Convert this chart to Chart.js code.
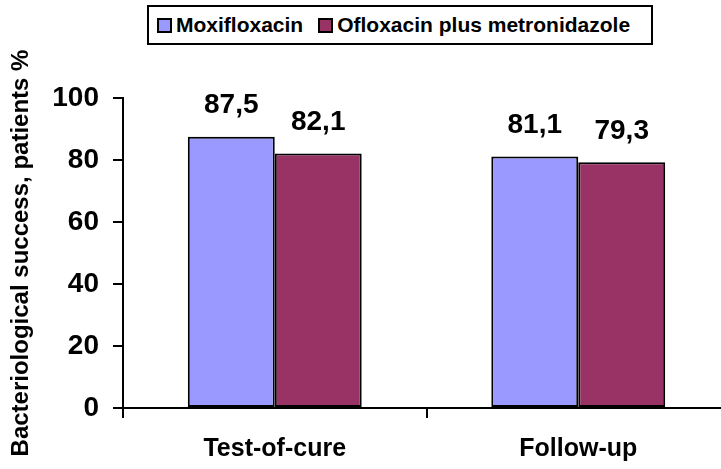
<!DOCTYPE html>
<html>
<head>
<meta charset="utf-8">
<script src="https://cdn.jsdelivr.net/npm/chart.js@4.4.0/dist/chart.umd.min.js"></script>
<style>
  html, body { margin: 0; padding: 0; background: #fff; overflow: hidden; }
  #wrap { position: relative; width: 730px; height: 469px; }
  #legend {
    position: absolute; left: 147px; top: 5px; width: 494px; height: 36px;
    border: 2px solid #000; background: #fff;
    font: bold 21px "Liberation Sans", Arial, sans-serif;
    display: flex; align-items: center; padding-left: 8px; box-sizing: content-box;
  }
  #legend span.item { display: flex; align-items: center; margin-right: 15px; }
  #legend span.sw { width: 11px; height: 11px; border: 2px solid #000; margin-right: 4px; display: inline-block; }
</style>
</head>
<body>
<div id="wrap">
  <canvas id="chart" width="730" height="469"></canvas>
  <div id="legend"></div>
</div>
<script>
// Chart data
const categories = ['Test-of-cure', 'Follow-up'];
const seriesNames = ['Moxifloxacin', 'Ofloxacin plus metronidazole'];
const moxifloxacin = [87.5, 81.1];
const ofloxacinMetronidazole = [82.1, 79.3];
const yTicks = [0, 20, 40, 60, 80, 100];
const seriesColors = ['#9999FF', '#993366'];

const FONT = '"Liberation Sans", Arial, sans-serif';

// HTML legend with a border, like the original
const legendEl = document.getElementById('legend');
seriesNames.forEach((name, i) => {
    const item = document.createElement('span');
    item.className = 'item';
    item.innerHTML = `<span class="sw" style="background:${seriesColors[i]}"></span>${name}`;
    legendEl.appendChild(item);
});

// Draws value labels above each bar, with a decimal comma
const valueLabels = {
    id: 'valueLabels',
    afterDatasetsDraw(chart) {
        const ctx = chart.ctx;
        ctx.save();
        ctx.font = 'bold 28px ' + FONT;
        ctx.fillStyle = '#000';
        ctx.textAlign = 'center';
        ctx.textBaseline = 'middle';
        chart.data.datasets.forEach((ds, di) => {
            chart.getDatasetMeta(di).data.forEach((bar, i) => {
                const txt = ds.data[i].toFixed(1).replace('.', ',');
                ctx.fillText(txt, bar.x, bar.y - 31);
            });
        });
        ctx.restore();
    }
};

new Chart(document.getElementById('chart'), {
    type: 'bar',
    data: {
        labels: categories,
        datasets: [
            { label: seriesNames[0], data: moxifloxacin, backgroundColor: seriesColors[0] },
            { label: seriesNames[1], data: ofloxacinMetronidazole, backgroundColor: seriesColors[1] }
        ]
    },
    options: {
        responsive: false,
        animation: false,
        layout: { padding: { top: 98, right: 0, left: 0, bottom: 0 } },
        datasets: {
            bar: {
                borderColor: '#000', borderWidth: 2, borderSkipped: false,
                categoryPercentage: 0.573, barPercentage: 1
            }
        },
        plugins: { legend: { display: false }, tooltip: { enabled: false } },
        scales: {
            x: {
                offset: true,
                grid: { offset: true, drawOnChartArea: false, tickLength: 10, color: '#000', lineWidth: 2 },
                border: { color: '#000', width: 2 },
                ticks: { color: '#000', padding: 16, font: { family: FONT, size: 25, weight: 'bold' } },
                afterFit(scale) { scale.height = 61; }
            },
            y: {
                min: 0, max: 100,
                afterBuildTicks(scale) { scale.ticks = yTicks.map(v => ({ value: v })); },
                grid: { drawOnChartArea: false, tickLength: 10, color: '#000', lineWidth: 2 },
                border: { color: '#000', width: 2 },
                ticks: { color: '#000', padding: 14, font: { family: FONT, size: 28, weight: 'bold' } },
                title: {
                    display: true, text: 'Bacteriological success, patients %', color: '#000',
                    font: { family: FONT, size: 24, weight: 'bold' }, padding: { top: 7, bottom: 0 }
                },
                afterFit(scale) { scale.width = 123; }
            }
        }
    },
    plugins: [valueLabels]
});
</script>
</body>
</html>
